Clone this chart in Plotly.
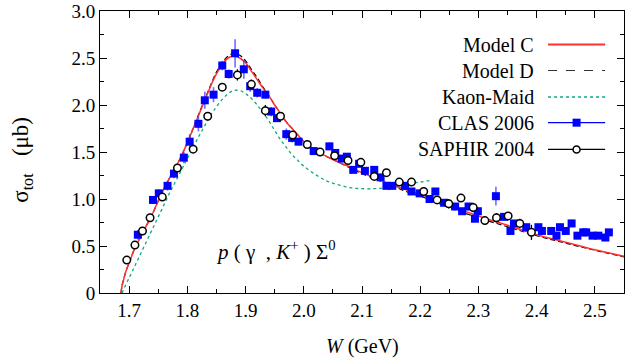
import plotly.graph_objects as go

# ---------------- data ----------------
model_w = [1.686, 1.688, 1.69, 1.695, 1.70, 1.71, 1.72, 1.73, 1.74, 1.75, 1.76, 1.77, 1.78, 1.79,
           1.80, 1.81, 1.82, 1.83, 1.84, 1.85, 1.86, 1.87, 1.88, 1.89, 1.90, 1.91, 1.92, 1.93,
           1.94, 1.95, 1.96, 1.97, 1.98, 1.99, 2.00, 2.02, 2.04, 2.06, 2.08, 2.10, 2.12, 2.14,
           2.16, 2.18, 2.20, 2.25, 2.30, 2.35, 2.40, 2.45, 2.50, 2.55]
model_c = [0.0, 0.08, 0.13, 0.24, 0.32, 0.48, 0.60, 0.72, 0.84, 0.98, 1.11, 1.23, 1.34, 1.46,
           1.60, 1.75, 1.90, 2.05, 2.20, 2.33, 2.43, 2.50, 2.52, 2.50, 2.45, 2.36, 2.27, 2.18,
           2.10, 2.00, 1.91, 1.82, 1.75, 1.68, 1.61, 1.52, 1.45, 1.39, 1.34, 1.28, 1.23, 1.18,
           1.13, 1.09, 1.05, 0.93, 0.82, 0.72, 0.62, 0.54, 0.46, 0.39]
model_d = [0.0, 0.08, 0.13, 0.24, 0.32, 0.48, 0.60, 0.72, 0.84, 0.98, 1.11, 1.23, 1.34, 1.46,
           1.60, 1.75, 1.91, 2.06, 2.21, 2.35, 2.45, 2.52, 2.55, 2.53, 2.47, 2.38, 2.29, 2.19,
           2.10, 2.00, 1.91, 1.82, 1.75, 1.68, 1.61, 1.52, 1.45, 1.39, 1.33, 1.27, 1.22, 1.17,
           1.12, 1.07, 1.03, 0.91, 0.80, 0.705, 0.61, 0.53, 0.455, 0.385]

maid_w = [1.688, 1.69, 1.70, 1.71, 1.72, 1.73, 1.74, 1.75, 1.76, 1.77, 1.78, 1.79, 1.80, 1.81,
          1.82, 1.83, 1.84, 1.85, 1.86, 1.87, 1.88, 1.89, 1.90, 1.91, 1.92, 1.93, 1.94, 1.95,
          1.96, 1.97, 1.98, 1.99, 2.00, 2.02, 2.04, 2.06, 2.08, 2.10, 2.12, 2.14, 2.16, 2.18,
          2.20, 2.22]
maid_s = [0.0, 0.03, 0.16, 0.29, 0.42, 0.55, 0.68, 0.81, 0.94, 1.07, 1.19, 1.31, 1.43, 1.55,
          1.67, 1.78, 1.89, 1.98, 2.06, 2.12, 2.155, 2.155, 2.12, 2.07, 2.00, 1.92, 1.83, 1.73,
          1.63, 1.55, 1.47, 1.41, 1.35, 1.26, 1.19, 1.15, 1.12, 1.11, 1.11, 1.12, 1.14, 1.16,
          1.18, 1.20]

clas_w = [1.715, 1.741, 1.751, 1.766, 1.777, 1.794, 1.804, 1.819, 1.830, 1.845, 1.860, 1.871,
          1.882, 1.897, 1.908, 1.920, 1.934, 1.944, 1.954, 1.970, 1.980, 1.991, 2.017, 2.044,
          2.054, 2.065, 2.074, 2.085, 2.095, 2.105, 2.121, 2.132, 2.142, 2.152, 2.174, 2.185,
          2.199, 2.216, 2.226, 2.241, 2.260, 2.272, 2.283, 2.294, 2.299, 2.330, 2.344, 2.355,
          2.361, 2.382, 2.403, 2.409, 2.425, 2.434, 2.440, 2.450, 2.460, 2.470, 2.480, 2.485,
          2.496, 2.506, 2.518, 2.524]
clas_s = [0.62, 0.99, 1.06, 1.14, 1.27, 1.44, 1.61, 1.80, 2.05, 2.11, 2.42, 2.33,
          2.55, 2.38, 2.20, 2.13, 2.11, 1.93, 1.86, 1.69, 1.65, 1.61, 1.51, 1.56,
          1.49, 1.43, 1.45, 1.31, 1.375, 1.30, 1.31, 1.23, 1.14, 1.14, 1.14, 1.08,
          1.06, 1.00, 1.08, 0.96, 0.92, 0.87, 0.92, 0.79, 0.87, 1.03, 0.81, 0.66,
          0.74, 0.70, 0.70, 0.66, 0.66, 0.61, 0.70, 0.66, 0.74, 0.61, 0.645, 0.645,
          0.61, 0.61, 0.59, 0.645]
clas_e = [0.05, 0.04, 0.04, 0.05, 0.05, 0.06, 0.08, 0.08, 0.09, 0.08, 0.05, 0.05,
          0.15, 0.10, 0.06, 0.05, 0.04, 0.05, 0.04, 0.06, 0.05, 0.04, 0.03, 0.04,
          0.03, 0.03, 0.03, 0.03, 0.04, 0.03, 0.04, 0.03, 0.03, 0.03, 0.03, 0.03,
          0.03, 0.03, 0.03, 0.03, 0.03, 0.03, 0.03, 0.03, 0.04, 0.10, 0.03, 0.03,
          0.03, 0.03, 0.03, 0.03, 0.03, 0.03, 0.03, 0.03, 0.04, 0.03, 0.04, 0.04,
          0.03, 0.03, 0.03, 0.03]

saphir_w = [1.696, 1.710, 1.723, 1.736, 1.757, 1.783, 1.810, 1.835, 1.860, 1.886, 1.910,
            1.934, 1.960, 1.981, 2.006, 2.028, 2.053, 2.076, 2.098, 2.121, 2.142, 2.164,
            2.185, 2.206, 2.229, 2.249, 2.270, 2.291, 2.311, 2.331, 2.351, 2.371, 2.391]
saphir_s = [0.35, 0.51, 0.66, 0.80, 1.02, 1.33, 1.53, 1.88, 2.19, 2.32, 2.22,
            1.94, 1.88, 1.68, 1.58, 1.50, 1.46, 1.41, 1.39, 1.24, 1.28, 1.18,
            1.18, 1.08, 0.99, 0.95, 1.01, 0.91, 0.77, 0.80, 0.82, 0.74, 0.645]
saphir_e = [0.03, 0.03, 0.03, 0.03, 0.03, 0.03, 0.04, 0.04, 0.04, 0.06, 0.05,
            0.06, 0.04, 0.04, 0.04, 0.04, 0.04, 0.04, 0.04, 0.04, 0.04, 0.04,
            0.04, 0.04, 0.04, 0.05, 0.04, 0.05, 0.04, 0.05, 0.04, 0.05, 0.08]

x_ticks = [1.7, 1.8, 1.9, 2.0, 2.1, 2.2, 2.3, 2.4, 2.5]
x_ticktext = ["1.7", "1.8", "1.9", "2.0", "2.1", "2.2", "2.3", "2.4", "2.5"]
y_ticks = [0, 0.5, 1.0, 1.5, 2.0, 2.5, 3.0]
y_ticktext = ["0", "0.5", "1.0", "1.5", "2.0", "2.5", "3.0"]

legend_labels = ["Model C", "Model D", "Kaon-Maid", "CLAS 2006", "SAPHIR 2004"]

RED = "#ff3030"
GREEN = "#11a884"
BLUE = "#0000ff"
FONT = "Liberation Serif"

fig = go.Figure()

fig.add_trace(go.Scatter(x=maid_w, y=maid_s, mode="lines",
                         line=dict(color=GREEN, width=1.3, dash="dot", shape="spline")))
fig.add_trace(go.Scatter(x=model_w, y=model_d, mode="lines",
                         line=dict(color="black", width=1.2, dash="5px,3px", shape="spline")))
fig.add_trace(go.Scatter(x=model_w, y=model_c, mode="lines",
                         line=dict(color=RED, width=1.5, shape="spline")))

fig.add_trace(go.Scatter(
    x=clas_w, y=clas_s, mode="markers",
    marker=dict(symbol="square", size=8, color=BLUE, line=dict(width=0)),
    error_y=dict(type="data", array=clas_e, color="rgba(60,60,255,0.75)", thickness=1.6, width=0)))
fig.add_trace(go.Scatter(
    x=saphir_w, y=saphir_s, mode="markers",
    marker=dict(symbol="circle", size=7.5, color="white", line=dict(width=1.5, color="black")),
    error_y=dict(type="data", array=saphir_e, color="black", thickness=1.3, width=0)))

# ---------- legend (text on the left, sample on the right) ----------
leg_y = [0.881, 0.789, 0.695, 0.604, 0.509]
styles = [dict(color=RED, width=2), dict(color="#333333", width=1.2, dash="dash"),
          dict(color=GREEN, width=1.3, dash="dot"), dict(color=BLUE, width=1.3),
          dict(color="black", width=1.3)]
x0, x1, xt = 0.855, 0.964, 0.832
for lab, yy, st in zip(legend_labels, leg_y, styles):
    fig.add_annotation(x=xt, y=yy, xref="paper", yref="paper", text=lab, showarrow=False,
                       xanchor="right", yanchor="middle",
                       font=dict(family=FONT, size=20, color="black"))
    fig.add_shape(type="line", xref="paper", yref="paper", x0=x0, x1=x1, y0=yy, y1=yy, line=st)
xm = (x0 + x1) / 2
fig.add_shape(type="rect", xref="paper", yref="paper", xsizemode="pixel", ysizemode="pixel",
              xanchor=xm, yanchor=leg_y[3], x0=-4, x1=4, y0=-4, y1=4,
              fillcolor=BLUE, line=dict(width=0))
fig.add_shape(type="circle", xref="paper", yref="paper", xsizemode="pixel", ysizemode="pixel",
              xanchor=xm, yanchor=leg_y[4], x0=-3.5, x1=3.5, y0=-3.5, y1=3.5,
              fillcolor="white", line=dict(width=1.5, color="black"))

# reaction label
fig.add_annotation(x=0.335, y=0.151, xref="paper", yref="paper", showarrow=False,
                   xanchor="center", yanchor="middle",
                   text="<i>p</i> ( γ  , <i>K</i><sup>+</sup> ) Σ<sup>0</sup>",
                   font=dict(family=FONT, size=21, color="black"))
# axis titles
fig.add_annotation(x=-0.148, y=0.474, xref="paper", yref="paper", showarrow=False, textangle=-90,
                   xanchor="center", yanchor="middle",
                   text="σ<sub>tot</sub>   (μb)", font=dict(family=FONT, size=23, color="black"))
fig.add_annotation(x=0.50, y=-0.19, xref="paper", yref="paper", showarrow=False,
                   xanchor="center", yanchor="middle",
                   text="<i>W</i> (GeV)", font=dict(family=FONT, size=20, color="black"))

axis_common = dict(showgrid=False, zeroline=False, showline=True, linecolor="black", linewidth=1,
                   mirror="ticks", ticks="inside", ticklen=7, tickcolor="black", tickwidth=1,
                   ticklabeloverflow="allow",
                   tickfont=dict(family=FONT, size=19, color="black"))
fig.update_xaxes(range=[1.65, 2.55], tickvals=x_ticks, ticktext=x_ticktext,
                 minor=dict(dtick=0.05, tick0=1.65, ticks="inside", ticklen=4,
                            tickcolor="black", showgrid=False),
                 **axis_common)
fig.update_yaxes(range=[0, 3.0], tickvals=y_ticks, ticktext=y_ticktext,
                 minor=dict(dtick=0.25, tick0=0, ticks="inside", ticklen=4,
                            tickcolor="black", showgrid=False),
                 **axis_common)

fig.update_layout(width=626, height=364, margin=dict(l=100, r=1, t=8, b=71),
                  paper_bgcolor="white", plot_bgcolor="white", showlegend=False,
                  font=dict(family=FONT, color="black"))

fig.write_html("out.html")
